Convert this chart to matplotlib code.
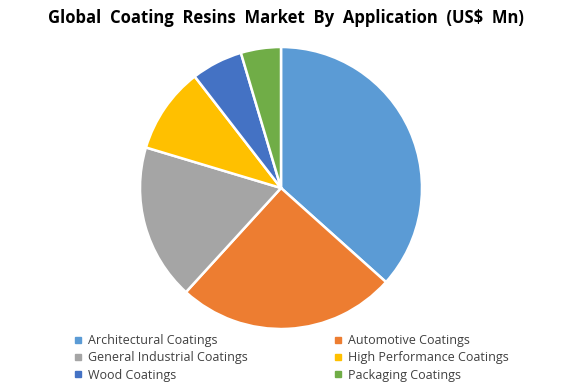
import matplotlib
matplotlib.use('Agg')
import matplotlib.pyplot as plt
from matplotlib.lines import Line2D

plt.rcParams['font.family'] = ['Open Sans', 'DejaVu Sans']

# share of market by application
applications = ['Architectural Coatings', 'Automotive Coatings', 'General Industrial Coatings',
                'High Performance Coatings', 'Wood Coatings', 'Packaging Coatings']
shares = [36.7, 25.2, 17.9, 9.9, 5.9, 4.6]
colors = ['#5B9BD5', '#ED7D31', '#A5A5A5', '#FFC000', '#4472C4', '#70AD47']

fig = plt.figure(figsize=(5.76, 3.84), dpi=100)

# pie centred around (281, 188) px, radius ~141 px
ax = fig.add_axes([(281 - 141) / 576, 1 - (188 + 141) / 384, 282 / 576, 282 / 384])
ax.pie(shares, colors=colors, startangle=90, counterclock=False,
       wedgeprops=dict(edgecolor='white', linewidth=1.8))
ax.set_xlim(-1, 1)
ax.set_ylim(-1, 1)
ax.set_aspect('equal')
for p in ax.patches:
    p.set_clip_on(False)

fig.text(0.497, 1 - 18 / 384, 'Global  Coating  Resins  Market  By  Application  (US$  Mn)',
         ha='center', va='center', fontsize=12, fontweight='bold', color='black')

# legend in two columns, row-wise like the original
handles = [Line2D([], [], marker='s', linestyle='none', markersize=4.5,
                  markerfacecolor=c, markeredgecolor=c) for c in colors]
order = [0, 2, 4, 1, 3, 5]
fig.legend([handles[i] for i in order], [applications[i] for i in order],
           ncol=2, loc='upper left', bbox_to_anchor=(74 / 576, 1 - 334 / 384),
           frameon=False, fontsize=9, handlelength=0.6, handletextpad=0.5,
           columnspacing=6.9, labelspacing=0.35, borderpad=0, borderaxespad=0,
           labelcolor='#404040')

fig.savefig('out.png', dpi=100, facecolor='white')
